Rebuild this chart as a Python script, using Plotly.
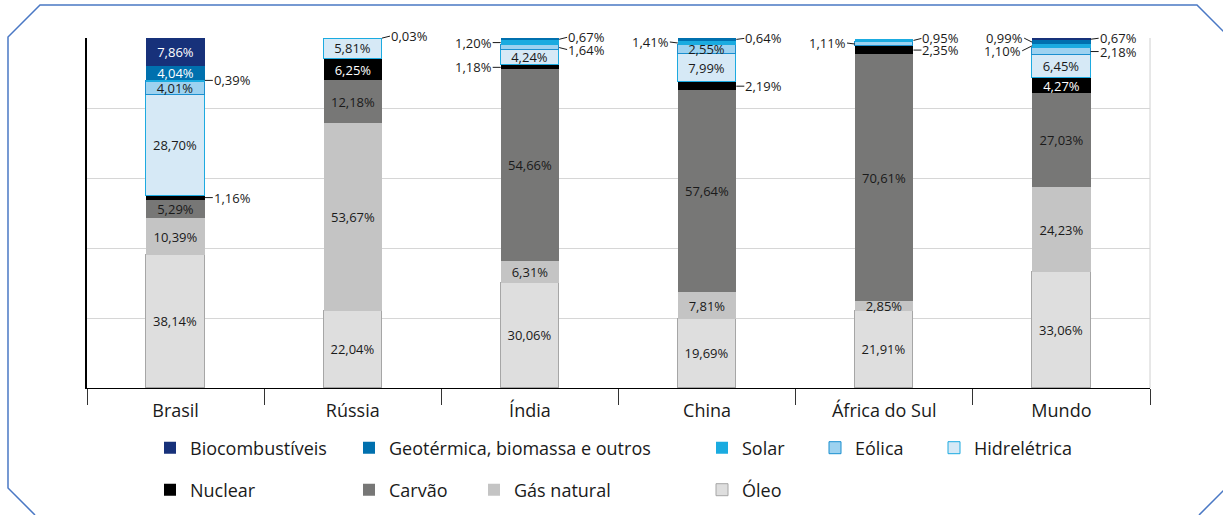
import plotly.graph_objects as go

# ---------------- data ----------------
countries = ["Brasil", "Rússia", "Índia", "China", "África do Sul", "Mundo"]
oleo = [38.14, 22.04, 30.06, 19.69, 21.91, 33.06]
gas_natural = [10.39, 53.67, 6.31, 7.81, 2.85, 24.23]
carvao = [5.29, 12.18, 54.66, 57.64, 70.61, 27.03]
nuclear = [1.16, 6.25, 1.18, 2.19, 2.35, 4.27]
hidreletrica = [28.70, 5.81, 4.24, 7.99, 0.0, 6.45]
eolica = [4.01, 0.0, 1.64, 2.55, 1.11, 2.18]
solar = [0.39, 0.03, 1.20, 1.41, 0.95, 1.10]
geotermica = [4.04, 0.0, 0.67, 0.64, 0.0, 0.99]
biocombustiveis = [7.86, 0.0, 0.0, 0.0, 0.0, 0.67]

series = [
    ("Óleo", oleo),
    ("Gás natural", gas_natural),
    ("Carvão", carvao),
    ("Nuclear", nuclear),
    ("Hidrelétrica", hidreletrica),
    ("Eólica", eolica),
    ("Solar", solar),
    ("Geotérmica, biomassa e outros", geotermica),
    ("Biocombustíveis", biocombustiveis),
]

# ---------------- styles ----------------
style = {
    "Óleo": dict(fill="#DEDEDE", line="#A6A6A6", lw=1, txt="#1a1a1a"),
    "Gás natural": dict(fill="#C4C4C4", line="#C4C4C4", lw=0, txt="#1a1a1a"),
    "Carvão": dict(fill="#777776", line="#777776", lw=0, txt="#1a1a1a"),
    "Nuclear": dict(fill="#000000", line="#000000", lw=0, txt="#ffffff"),
    "Hidrelétrica": dict(fill="#D6E9F6", line="#1DAAE0", lw=1, txt="#1a1a1a"),
    "Eólica": dict(fill="#9DD2F0", line="#1B8FCF", lw=1, txt="#1a1a1a"),
    "Solar": dict(fill="#1AABE0", line="#1AABE0", lw=0, txt="#ffffff"),
    "Geotérmica, biomassa e outros": dict(fill="#0070AE", line="#0070AE", lw=0, txt="#ffffff"),
    "Biocombustíveis": dict(fill="#17317A", line="#17317A", lw=0, txt="#ffffff"),
}

# legend placement (pixel: left of symbol, row centre)
legend_pos = {
    "Biocombustíveis": (162, 448), "Geotérmica, biomassa e outros": (361, 448),
    "Solar": (714, 448), "Eólica": (827, 448), "Hidrelétrica": (946, 448),
    "Nuclear": (162, 490), "Carvão": (361, 490), "Gás natural": (486, 490),
    "Óleo": (714, 490),
}

# outside labels: (country index, series name, side, ax, ay)
outside = [
    (0, "Solar", "r", 8, 0), (0, "Nuclear", "r", 8, 0),
    (1, "Solar", "r", 8, -2),
    (2, "Nuclear", "l", -8, 0), (2, "Solar", "l", -8, 0),
    (2, "Eólica", "r", 8, 2), (2, "Geotérmica, biomassa e outros", "r", 8, -2),
    (3, "Nuclear", "r", 8, 0), (3, "Solar", "l", -8, -1),
    (3, "Geotérmica, biomassa e outros", "r", 8, -1),
    (4, "Nuclear", "r", 8, 0), (4, "Eólica", "l", -8, -1), (4, "Solar", "r", 8, -2),
    (5, "Eólica", "r", 8, 0), (5, "Solar", "l", -10, 5),
    (5, "Geotérmica, biomassa e outros", "l", -8, -4), (5, "Biocombustíveis", "r", 8, -1),
]

W, H = 1223, 515
PL, PR, PT, PB = 87, 1150, 38, 388  # plot area in pixels
ML, MT, MR, MB = PL, PT, W - PR, H - PB
PW, PH = PR - PL, PB - PT
BAR_W = 0.33
FONT = "Open Sans, Noto Sans, sans-serif"


def px2paper(x, y):
    return (x - PL) / PW, (PB - y) / PH


def fmt(v):
    return f"{v:.2f}".replace(".", ",") + "%"


outside_set = {(c, s) for c, s, *_ in outside}

fig = go.Figure()
for idx, (name, vals) in enumerate(series):
    st = style[name]
    texts = ["" if (v == 0 or (i, name) in outside_set) else fmt(v) for i, v in enumerate(vals)]
    lx, ly = legend_pos[name]
    lgid = "legend" if idx == 0 else f"legend{idx + 1}"
    fig.add_trace(go.Bar(
        x=countries, y=vals, name=name, width=BAR_W,
        marker=dict(color=st["fill"], line=dict(color=st["line"], width=st["lw"])),
        text=texts, textposition="inside", insidetextanchor="middle",
        textfont=dict(color=st["txt"], size=13, family=FONT),
        hoverinfo="skip", legend=lgid,
    ))
    px_, py_ = px2paper(lx - 12, ly)
    fig.update_layout({lgid: dict(
        x=px_, y=py_, xanchor="left", yanchor="middle",
        bgcolor="rgba(0,0,0,0)", font=dict(size=18, family=FONT, color="#1a1a1a"),
    )})

# outside annotations with leader lines
order = [n for n, _ in series]
vals_by = dict(series)
for ci, sname, side, ax, ay in outside:
    k = order.index(sname)
    base = sum(vals_by[order[j]][ci] for j in range(k))
    mid = base + vals_by[sname][ci] / 2
    xpos = ci + (BAR_W / 2 if side == "r" else -BAR_W / 2)
    fig.add_annotation(
        x=xpos, y=mid, xref="x", yref="y", text=fmt(vals_by[sname][ci]),
        showarrow=True, arrowhead=0, arrowwidth=1, arrowcolor="#1a1a1a",
        ax=ax, ay=ay, xanchor="left" if side == "r" else "right",
        font=dict(size=13, family=FONT, color="#1a1a1a"), standoff=0, borderpad=0,
    )

# decorative frame with chamfered corners
pts = [(35, 515), (8, 488), (8, 37), (40, 5), (1197, 5), (1224, 32)]
p = [px2paper(x, y) for x, y in pts]
path = "M " + " L ".join(f"{a:.5f},{b:.5f}" for a, b in p)
q = [px2paper(1224, 490), px2paper(1199, 515)]
path += " M " + " L ".join(f"{a:.5f},{b:.5f}" for a, b in q)
fig.add_shape(type="path", xref="paper", yref="paper", path=path,
              line=dict(color="#4A78C4", width=1.5), layer="above")
fig.add_shape(type="line", xref="paper", yref="paper", x0=1, x1=1, y0=0, y1=1,
              line=dict(color="#D0D0D0", width=1), layer="below")

fig.update_layout(
    width=W, height=H, barmode="stack", bargap=0,
    margin=dict(l=ML, r=MR, t=MT, b=MB, autoexpand=False),
    paper_bgcolor="white", plot_bgcolor="white",
    font=dict(family=FONT, color="#1a1a1a"),
    uniformtext=dict(minsize=13, mode="show"),
    showlegend=True,
    xaxis=dict(type="category", tickson="boundaries", ticks="outside", ticklen=16,
               tickcolor="#333333", showline=True, linecolor="#000000", linewidth=1,
               tickfont=dict(size=18, family=FONT, color="#1a1a1a"), showgrid=False,
               ticklabelstandoff=6),
    yaxis=dict(range=[0, 100], dtick=20, showgrid=True, gridcolor="#D6D6D6",
               showticklabels=False, showline=True, linecolor="#000000", linewidth=1.5,
               zeroline=False, ticks=""),
)

fig.write_html("out.html", config={"displayModeBar": False},
               post_script="document.body.style.margin='0';")
